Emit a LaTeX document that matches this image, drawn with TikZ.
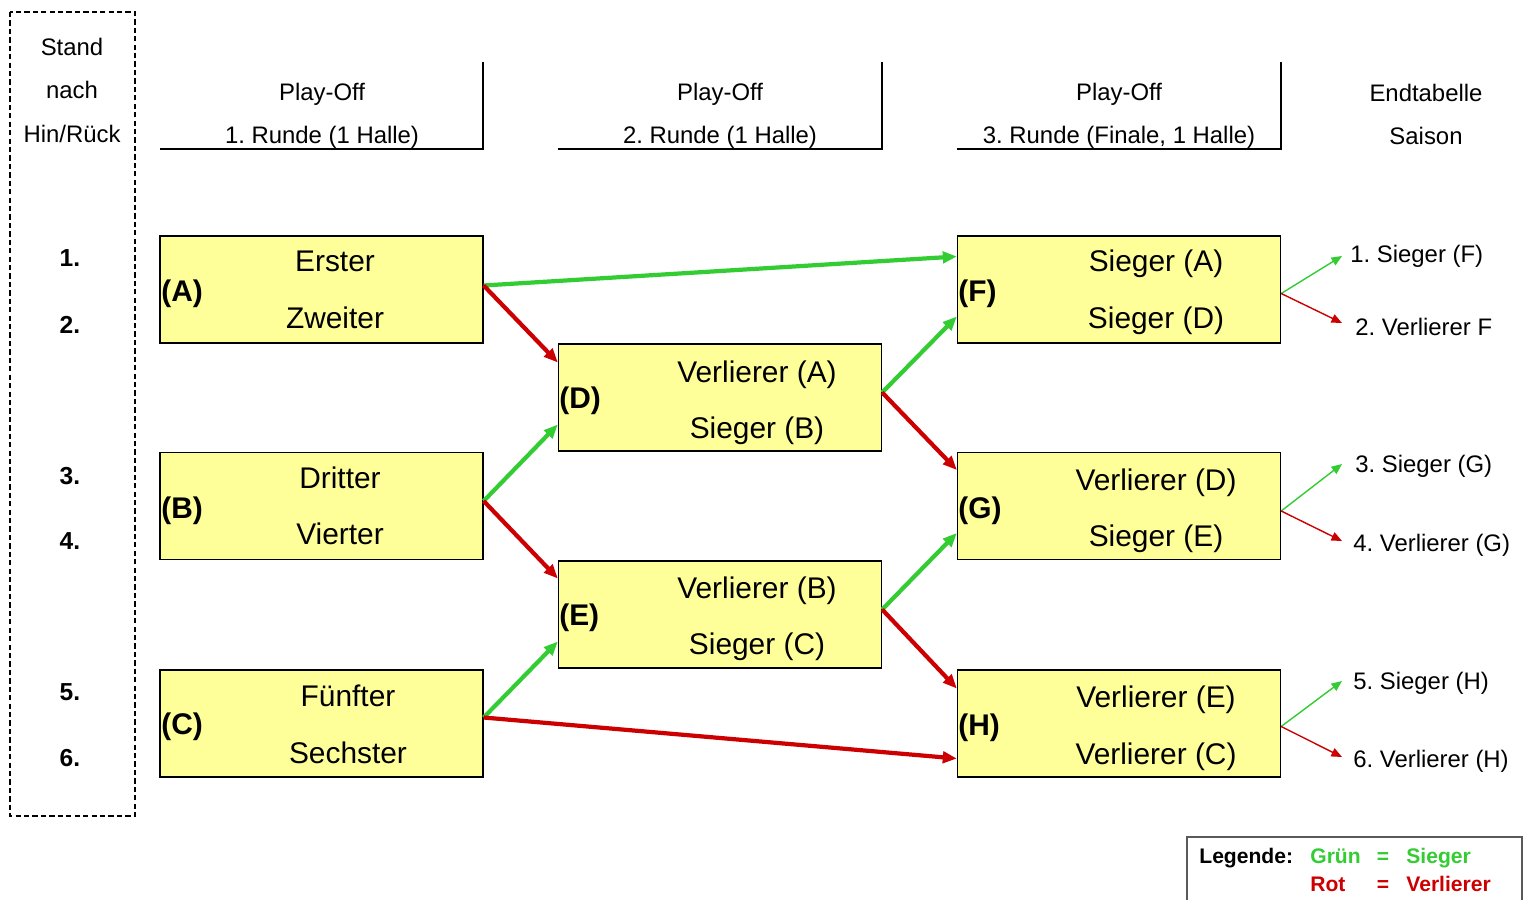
\documentclass[tikz,border=0pt]{standalone}
\usepackage{fontspec}
\setmainfont{Liberation Sans}
\usetikzlibrary{calc,arrows.meta}
\definecolor{gruen}{RGB}{51,204,51}
\definecolor{rot}{RGB}{204,0,0}
\definecolor{gelb}{RGB}{255,255,153}
\frenchspacing

\begin{document}
\begin{tikzpicture}[x=0.02cm,y=-0.02cm,
	box/.style={draw,line width=0.8pt,fill=gelb,minimum width=6.46cm,minimum height=2.14cm,inner sep=0pt},
	boxtxt/.style={font=\fontsize{17}{20}\selectfont,inner sep=0pt,text height=12.2pt,text depth=0pt},
	boxlbl/.style={boxtxt,font=\fontsize{17}{20}\selectfont\bfseries,anchor=west},
	kopf/.style={font=\fontsize{13.6}{16}\selectfont,inner sep=0pt,text height=9.7pt,text depth=0pt},
	rang/.style={kopf,font=\fontsize{14}{16}\selectfont\bfseries},
	ziel/.style={kopf,anchor=west},
	leg/.style={font=\fontsize{12}{14}\selectfont\bfseries,inner sep=0pt,text height=8.6pt,text depth=0pt,anchor=west},
	sieg/.style={draw=gruen,line width=2.4pt,-{Triangle[length=8pt,width=6.5pt]}},
	nieder/.style={sieg,draw=rot},
	siegd/.style={draw=gruen,line width=0.8pt,-{Triangle[length=6pt,width=5pt]}},
	niederd/.style={siegd,draw=rot}]
	\useasboundingbox (0,0) rectangle (1530,899);

	%STAND
	\draw[line width=0.7pt,dash pattern=on 3pt off 1.8pt] (10,12) rectangle (135,816);
	\node[kopf] (st1) at (72,47) {Stand};
	\node[kopf] (st2) at (72,90) {nach};
	\node[kopf] (st3) at (72,134) {Hin/Rück};
	\node[rang] (r1) at (70,258) {1.};
	\node[rang] (r2) at (70,325) {2.};
	\node[rang] (r3) at (70,476) {3.};
	\node[rang] (r4) at (70,541) {4.};
	\node[rang] (r5) at (70,692) {5.};
	\node[rang] (r6) at (70,758) {6.};

	%HEADERS
	\draw[line width=0.8pt] (160,149) -| (483,62);
	\draw[line width=0.8pt] (558,149) -| (882,62);
	\draw[line width=0.8pt] (957,149) -| (1281,62);
	\node[kopf] (h1a) at (322,92) {Play-Off};
	\node[kopf] (h1b) at (322,135) {1. Runde (1 Halle)};
	\node[kopf] (h2a) at (720,92) {Play-Off};
	\node[kopf] (h2b) at (720,135) {2. Runde (1 Halle)};
	\node[kopf] (h3a) at (1119,92) {Play-Off};
	\node[kopf] (h3b) at (1119,135) {3. Runde (Finale, 1 Halle)};
	\node[kopf] (h4a) at (1426,93) {Endtabelle};
	\node[kopf] (h4b) at (1426,136) {Saison};

	%BOXES
	\node[box] (A) at (321.5,289.5) {};
	\node[box] (B) at (321.5,506) {};
	\node[box] (C) at (321.5,723.5) {};
	\node[box] (D) at (720,397.5) {};
	\node[box] (E) at (720,614.5) {};
	\node[box] (F) at (1119,289.5) {};
	\node[box] (G) at (1119,506) {};
	\node[box] (H) at (1119,723.5) {};

	%BOX TEXTS
	\node[boxlbl] at (161,291) {(A)};
	\node[boxtxt] at (335,261) {Erster};
	\node[boxtxt] at (335,318) {Zweiter};
	\node[boxlbl] at (161,508) {(B)};
	\node[boxtxt] at (340,478) {Dritter};
	\node[boxtxt] at (340,534) {Vierter};
	\node[boxlbl] at (161,724) {(C)};
	\node[boxtxt] at (348,696) {Fünfter};
	\node[boxtxt] at (348,753) {Sechster};
	\node[boxlbl] at (559,398) {(D)};
	\node[boxtxt] at (757,372) {Verlierer (A)};
	\node[boxtxt] at (757,428) {Sieger (B)};
	\node[boxlbl] at (559,615) {(E)};
	\node[boxtxt] at (757,588) {Verlierer (B)};
	\node[boxtxt] at (757,644) {Sieger (C)};
	\node[boxlbl] at (958,291) {(F)};
	\node[boxtxt] at (1156,261) {Sieger (A)};
	\node[boxtxt] at (1156,318) {Sieger (D)};
	\node[boxlbl] at (958,508) {(G)};
	\node[boxtxt] at (1156,480) {Verlierer (D)};
	\node[boxtxt] at (1156,536) {Sieger (E)};
	\node[boxlbl] at (958,725) {(H)};
	\node[boxtxt] at (1156,697) {Verlierer (E)};
	\node[boxtxt] at (1156,754) {Verlierer (C)};

	%ARROWS
	\draw[sieg] ($(A.east)+(0,-4)$) -- ($(F.west)+(0,-33)$);
	\draw[nieder] ($(A.east)+(0,-4)$) -- ($(D.west)+(0,-35)$);
	\draw[sieg] ($(B.east)+(0,-5)$) -- ($(D.west)+(0,27)$);
	\draw[nieder] ($(B.east)+(0,-5)$) -- ($(E.west)+(0,-36)$);
	\draw[sieg] ($(C.east)+(0,-6)$) -- ($(E.west)+(0,27)$);
	\draw[nieder] ($(C.east)+(0,-6)$) -- ($(H.west)+(0,35)$);
	\draw[sieg] ($(D.east)+(0,-5)$) -- ($(F.west)+(0,27)$);
	\draw[nieder] ($(D.east)+(0,-5)$) -- ($(G.west)+(0,-36)$);
	\draw[sieg] ($(E.east)+(0,-5)$) -- ($(G.west)+(0,27)$);
	\draw[nieder] ($(E.east)+(0,-5)$) -- ($(H.west)+(0,-35)$);

	%ENDTABELLE
	\coordinate (p1) at (1342,256);
	\coordinate (p2) at (1342,323);
	\coordinate (p3) at (1342,464);
	\coordinate (p4) at (1342,541);
	\coordinate (p5) at (1342,681);
	\coordinate (p6) at (1342,757);
	\draw[siegd] ($(F.east)+(0,4)$) -- (p1);
	\draw[niederd] ($(F.east)+(0,4)$) -- (p2);
	\draw[siegd] ($(G.east)+(0,5)$) -- (p3);
	\draw[niederd] ($(G.east)+(0,5)$) -- (p4);
	\draw[siegd] ($(H.east)+(0,3)$) -- (p5);
	\draw[niederd] ($(H.east)+(0,3)$) -- (p6);
	\node[ziel] (e1) at (1350,254) {1. Sieger (F)};
	\node[ziel] (e2) at (1355,327) {2. Verlierer F};
	\node[ziel] (e3) at (1355,464) {3. Sieger (G)};
	\node[ziel] (e4) at (1353,543) {4. Verlierer (G)};
	\node[ziel] (e5) at (1353,681) {5. Sieger (H)};
	\node[ziel] (e6) at (1353,759) {6. Verlierer (H)};

	%LEGENDE
	\draw[line width=1.1pt,draw=black!65] (1187,837) rectangle (1522,915);
	\node[leg] (lg) at (1199,856) {Legende:};
	\node[leg,text=gruen] (lg1) at (1310,856) {Grün};
	\node[leg,text=gruen,anchor=center] (lg2) at (1383,856) {=};
	\node[leg,text=gruen] (lg3) at (1406,856) {Sieger};
	\node[leg,text=rot] (lr1) at (1310,884) {Rot};
	\node[leg,text=rot,anchor=center] (lr2) at (1383,884) {=};
	\node[leg,text=rot] (lr3) at (1406,884) {Verlierer};
\end{tikzpicture}
\end{document}
